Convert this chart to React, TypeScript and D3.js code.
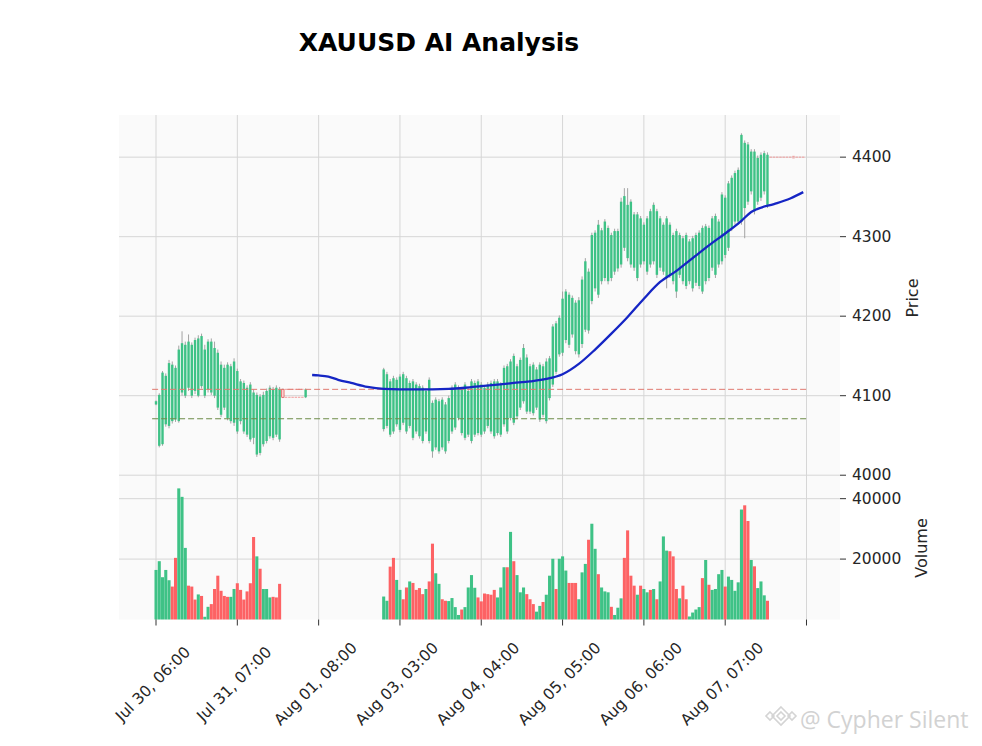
import * as d3 from "d3";

type Candle = [number, number, number, number] | null; // open, high, low, close

const title = "XAUUSD AI Analysis";

const tickPositions = [0, 25, 50, 75, 100, 125, 150, 175, 200];
const tickLabels = [
  "Jul 30, 06:00",
  "Jul 31, 07:00",
  "Aug 01, 08:00",
  "Aug 03, 03:00",
  "Aug 04, 04:00",
  "Aug 05, 05:00",
  "Aug 06, 06:00",
  "Aug 07, 07:00",
  "",
];

const priceTicks = [4000, 4100, 4200, 4300, 4400];
const volumeTicks = [20000, 40000];

// index 0..46
const session1: Candle[] = [
  [4089, 4094, 4088, 4093], [4037, 4103, 4035, 4101], [4039, 4131, 4037, 4129], [4064, 4128, 4061, 4125],
  [4062, 4145, 4059, 4141], [4068, 4143, 4065, 4139], [4070, 4138, 4067, 4135], [4068, 4163, 4066, 4158],
  [4104, 4181, 4100, 4166], [4100, 4168, 4097, 4164], [4110, 4177, 4106, 4168], [4100, 4167, 4097, 4164],
  [4106, 4173, 4102, 4170], [4100, 4176, 4098, 4172], [4112, 4178, 4109, 4175], [4100, 4164, 4097, 4158],
  [4108, 4171, 4104, 4168], [4104, 4172, 4101, 4168], [4100, 4168, 4097, 4160], [4085, 4158, 4082, 4154],
  [4076, 4143, 4073, 4139], [4085, 4139, 4082, 4135], [4072, 4142, 4069, 4139], [4068, 4140, 4065, 4137],
  [4066, 4147, 4062, 4143], [4055, 4134, 4052, 4131], [4068, 4121, 4064, 4118], [4055, 4119, 4052, 4116],
  [4051, 4113, 4048, 4110], [4045, 4117, 4042, 4114], [4047, 4108, 4039, 4104], [4026, 4104, 4023, 4101],
  [4028, 4102, 4025, 4099], [4039, 4105, 4036, 4101], [4043, 4109, 4040, 4106], [4049, 4113, 4046, 4110],
  [4047, 4111, 4044, 4108], [4051, 4113, 4048, 4110], [4045, 4111, 4042, 4108], [4108, 4109, 4097, 4098],
  [4108, 4108, 4098, 4098], [4108, 4108, 4098, 4098], [4108, 4108, 4098, 4098], [4108, 4108, 4098, 4098],
  [4108, 4108, 4098, 4098], [4108, 4108, 4098, 4098], [4098, 4109, 4097, 4108],
];

// index 47..69 : no quotes
const weekendGap: Candle[] = new Array(23).fill(null);

// index 70..188
const session2: Candle[] = [
  [4058, 4135, 4055, 4133], [4062, 4130, 4059, 4127], [4051, 4121, 4048, 4118], [4055, 4125, 4052, 4122],
  [4064, 4123, 4061, 4120], [4057, 4127, 4054, 4124], [4066, 4130, 4063, 4127], [4055, 4125, 4052, 4122],
  [4062, 4119, 4059, 4116], [4047, 4121, 4044, 4118], [4055, 4117, 4052, 4114], [4049, 4115, 4046, 4112],
  [4043, 4113, 4040, 4110], [4055, 4109, 4052, 4106], [4043, 4123, 4040, 4120], [4030, 4094, 4022, 4091],
  [4035, 4098, 4032, 4095], [4030, 4096, 4027, 4093], [4035, 4098, 4032, 4095], [4030, 4092, 4027, 4089],
  [4043, 4100, 4040, 4097], [4055, 4113, 4052, 4110], [4060, 4117, 4057, 4114], [4072, 4113, 4069, 4110],
  [4053, 4111, 4050, 4108], [4047, 4117, 4044, 4114], [4051, 4109, 4048, 4106], [4043, 4121, 4040, 4118],
  [4051, 4119, 4048, 4116], [4053, 4121, 4050, 4118], [4051, 4117, 4048, 4114], [4055, 4113, 4052, 4110],
  [4062, 4117, 4059, 4114], [4055, 4119, 4052, 4116], [4049, 4121, 4046, 4118], [4053, 4121, 4050, 4118],
  [4051, 4117, 4048, 4114], [4064, 4138, 4061, 4135], [4055, 4140, 4052, 4137], [4072, 4146, 4069, 4143],
  [4066, 4153, 4063, 4150], [4074, 4140, 4071, 4137], [4085, 4148, 4082, 4145], [4093, 4165, 4090, 4160],
  [4080, 4152, 4077, 4148], [4080, 4140, 4077, 4137], [4078, 4142, 4075, 4139], [4085, 4136, 4082, 4133],
  [4070, 4142, 4067, 4139], [4076, 4140, 4073, 4137], [4068, 4147, 4065, 4143], [4097, 4150, 4094, 4147],
  [4114, 4190, 4111, 4187], [4130, 4194, 4127, 4191], [4152, 4201, 4149, 4198], [4154, 4231, 4150, 4222],
  [4170, 4234, 4166, 4231], [4164, 4230, 4160, 4227], [4177, 4226, 4173, 4223], [4156, 4220, 4152, 4217],
  [4152, 4224, 4148, 4220], [4165, 4250, 4160, 4246], [4183, 4273, 4180, 4269], [4182, 4260, 4178, 4256],
  [4219, 4305, 4215, 4302], [4235, 4308, 4231, 4305], [4227, 4321, 4223, 4315], [4244, 4311, 4240, 4308],
  [4248, 4322, 4244, 4319], [4244, 4314, 4240, 4311], [4248, 4305, 4244, 4302], [4256, 4310, 4252, 4307],
  [4260, 4310, 4256, 4307], [4265, 4349, 4261, 4344], [4286, 4361, 4282, 4351], [4273, 4361, 4269, 4340],
  [4265, 4347, 4261, 4344], [4261, 4331, 4257, 4328], [4248, 4331, 4244, 4328], [4265, 4326, 4261, 4323],
  [4269, 4318, 4265, 4315], [4256, 4326, 4252, 4323], [4265, 4335, 4261, 4332], [4269, 4343, 4265, 4340],
  [4252, 4335, 4248, 4332], [4261, 4326, 4257, 4323], [4256, 4318, 4252, 4315], [4248, 4326, 4235, 4323],
  [4252, 4318, 4248, 4315], [4244, 4305, 4240, 4302], [4231, 4310, 4223, 4307], [4252, 4305, 4248, 4302],
  [4244, 4301, 4240, 4298], [4238, 4305, 4234, 4302], [4244, 4297, 4240, 4294], [4235, 4301, 4231, 4298],
  [4242, 4305, 4238, 4302], [4238, 4308, 4234, 4305], [4231, 4314, 4228, 4311], [4244, 4316, 4240, 4313],
  [4248, 4314, 4244, 4311], [4261, 4326, 4257, 4323], [4252, 4329, 4248, 4326], [4265, 4322, 4261, 4319],
  [4269, 4356, 4265, 4353], [4277, 4352, 4273, 4349], [4286, 4370, 4282, 4367], [4311, 4377, 4307, 4374],
  [4319, 4383, 4315, 4380], [4319, 4387, 4315, 4384], [4319, 4430, 4315, 4428], [4336, 4421, 4298, 4418],
  [4344, 4419, 4340, 4416], [4357, 4410, 4353, 4407], [4332, 4410, 4328, 4407], [4344, 4402, 4340, 4399],
  [4349, 4406, 4345, 4403], [4357, 4408, 4353, 4405], [4340, 4406, 4336, 4403],
];

// index 189..199 : flat quotes without volume
const flatTail: Candle[] = [
  [4400, 4400, 4400, 4400], [4400, 4400, 4400, 4400], [4400, 4400, 4400, 4400], [4400, 4400, 4400, 4400],
  [4400, 4400, 4400, 4400], [4400, 4400, 4400, 4400], [4400, 4400, 4400, 4400], [4401, 4401, 4399, 4399],
  [4400, 4400, 4400, 4400], [4400, 4400, 4400, 4400], [4400, 4400, 4400, 4400],
];

const candles: Candle[] = [...session1, ...weekendGap, ...session2, ...flatTail];

// volume for index 0..38
const volume1 = [
  16400, 19300, 14000, 16400, 13000, 10900, 20400, 43400, 40600, 23700,
  11200, 10900, 6600, 8300, 7800, 900, 4200, 5100, 10100, 14500,
  9500, 7800, 7500, 7500, 10100, 12000, 9800, 6600, 9300, 12000,
  27300, 20900, 16800, 10100, 10100, 7300, 7500, 7300, 11800,
];
const volumeDir1 = "gggggrrgggrrrgrggrrrrrrggrrrrrrgrgggrrr";

// volume for index 70..188
const volume2 = [
  7600, 6200, 17500, 20400, 13100, 9800, 6700, 10600, 12600, 12100,
  9800, 10400, 8400, 10100, 12600, 25100, 15300, 11800, 6700, 6200,
  6100, 7100, 4100, 1500, 3300, 4100, 10600, 14700, 10500, 7300,
  6000, 8600, 8400, 8200, 9800, 7300, 10600, 17300, 17300, 29000,
  19300, 14700, 9000, 10600, 8400, 6700, 5100, 2600, 4500, 5800,
  8200, 14500, 20100, 10100, 20100, 20900, 16200, 12100, 12100, 12100,
  6700, 15600, 18400, 26400, 31700, 23400, 15000, 10600, 9300, 9000,
  4200, 1500, 3900, 7000, 20400, 29500, 14500, 11200, 8200, 11200,
  10100, 9000, 9800, 10100, 6700, 12600, 27500, 22800, 22600, 20900,
  10100, 7000, 11200, 6700, 1000, 2300, 3300, 4100, 13700, 19700,
  11500, 9800, 10100, 15000, 16400, 10900, 14200, 13100, 9500, 12300,
  36400, 37800, 32600, 19700, 17600, 10400, 12600, 8000, 6200,
];
const volumeDir2 =
  "ggrrggrrgr" + "rrrgrrggrr" + "ggggrggggr" + "rrrrrgggrg" + "rgggrrrggr" +
  "gggrgggrrr" + "gggrggrggg" + "rgggrrrrgr" + "ggrgrgggrr" + "rgrrggggrg" +
  "rggggrgggg" + "grrgrgggr";

const volumeStart1 = 0;
const volumeStart2 = 70;

// AI trend line
const trendIndex = [48, 50, 53, 56, 60, 65, 70, 75, 80, 85, 90, 95, 100, 105, 110, 115, 120, 125, 130, 135, 140, 145, 150, 155, 160, 165, 170, 175, 180, 183, 185, 190, 195, 199];
const trendValue = [4126, 4125.5, 4124, 4120, 4116, 4111, 4108.5, 4108, 4108, 4108, 4108.5, 4110, 4112, 4114, 4116, 4118, 4121, 4127, 4140, 4158, 4178, 4199, 4222, 4243, 4257, 4273, 4289, 4304, 4320, 4331, 4335, 4341, 4348, 4356];

const resistanceLevel = 4108;
const supportLevel = 4071;

const UP = "#3ec286";
const DOWN = "#fd6264";

export default function App() {
  const width = 982;
  const height = 746;
  const plot = { left: 119, right: 840, priceTop: 115, priceBottom: 476, volumeBottom: 619.5 };

  const x = d3.scaleLinear().domain([-11.38, 210.3]).range([plot.left, plot.right]);
  const yPrice = d3.scaleLinear().domain([3999, 4453]).range([plot.priceBottom, plot.priceTop]);
  const yVolume = d3.scaleLinear().domain([0, 47500]).range([plot.volumeBottom, plot.priceBottom]);
  const step = x(1) - x(0);
  const bodyWidth = step * 0.74;

  const volumes: { index: number; value: number; up: boolean }[] = [
    ...volume1.map((value, k) => ({ index: volumeStart1 + k, value, up: volumeDir1[k] === "g" })),
    ...volume2.map((value, k) => ({ index: volumeStart2 + k, value, up: volumeDir2[k] === "g" })),
  ];
  const hasVolume = new Set(volumes.map((v) => v.index));

  const trendLine = d3
    .line<number>()
    .x((_, k) => x(trendIndex[k]))
    .y((v) => yPrice(v))
    .curve(d3.curveMonotoneX);

  const font = "DejaVu Sans, sans-serif";

  return (
    <svg
      width={width}
      height={height}
      viewBox={`0 0 ${width} ${height}`}
      style={{ position: "absolute", left: 0, top: 0, background: "#fff" }}
    >
      <text x={439} y={51} textAnchor="middle" fontFamily={font} fontWeight="bold" fontSize={25} fill="#000">
        {title}
      </text>

      <rect x={plot.left} y={plot.priceTop} width={plot.right - plot.left} height={plot.volumeBottom - plot.priceTop} fill="#fafafa" />

      <g stroke="#d6d6d6" strokeWidth={1}>
        {tickPositions.map((t) => (
          <line key={`vx-${t}`} x1={x(t)} x2={x(t)} y1={plot.priceTop} y2={plot.volumeBottom} />
        ))}
        {priceTicks.map((t) => (
          <line key={`py-${t}`} x1={plot.left} x2={plot.right} y1={yPrice(t)} y2={yPrice(t)} />
        ))}
        {volumeTicks.map((t) => (
          <line key={`vy-${t}`} x1={plot.left} x2={plot.right} y1={yVolume(t)} y2={yVolume(t)} />
        ))}
      </g>

      <g>
        {candles.map((d, i) => {
          if (!d) return null;
          const [o, h, l, c] = d;
          const cx = x(i);
          const ghost = !hasVolume.has(i) && o >= c && h === o && l === c;
          if (ghost) {
            if (o === c) {
              return (
                <line key={`c-${i}`} x1={cx - bodyWidth / 2} x2={cx + bodyWidth / 2} y1={yPrice(o)} y2={yPrice(o)} stroke="#f09090" strokeWidth={0.9} />
              );
            }
            return (
              <g key={`c-${i}`} stroke="#f09090" strokeWidth={0.9}>
                <line x1={cx - bodyWidth / 2} x2={cx + bodyWidth / 2} y1={yPrice(o)} y2={yPrice(o)} />
                <line x1={cx - bodyWidth / 2} x2={cx + bodyWidth / 2} y1={yPrice(c)} y2={yPrice(c)} />
              </g>
            );
          }
          const top = yPrice(Math.max(o, c));
          const bottom = yPrice(Math.min(o, c));
          return (
            <g key={`c-${i}`}>
              <line x1={cx} x2={cx} y1={yPrice(h)} y2={yPrice(l)} stroke="#9a9a9a" strokeWidth={0.9} />
              <rect
                x={cx - bodyWidth / 2}
                y={top}
                width={bodyWidth}
                height={Math.max(0.8, bottom - top)}
                fill={c >= o ? UP : "#fdd0d0"}
                stroke={c >= o ? "none" : "#e05050"}
                strokeWidth={0.7}
              />
            </g>
          );
        })}
      </g>

      <line x1={x(-1.2)} x2={x(200.4)} y1={yPrice(resistanceLevel)} y2={yPrice(resistanceLevel)} stroke="#e07a70" strokeWidth={1} strokeDasharray="6 3" />
      <line x1={x(-1.2)} x2={x(200.4)} y1={yPrice(supportLevel)} y2={yPrice(supportLevel)} stroke="#6e8c48" strokeWidth={1.1} strokeDasharray="6 3" />

      <path d={trendLine(trendValue) ?? ""} fill="none" stroke="#1525c4" strokeWidth={2.3} />

      <g>
        {volumes.map((v) => (
          <rect
            key={`v-${v.index}`}
            x={x(v.index) - step * 0.47}
            y={yVolume(v.value)}
            width={step * 0.94}
            height={yVolume(0) - yVolume(v.value)}
            fill={v.up ? UP : DOWN}
          />
        ))}
      </g>

      <g fontFamily={font} fontSize={15.5} fill="#262626">
        {priceTicks.map((t) => (
          <g key={`pt-${t}`}>
            <line x1={plot.right} x2={plot.right + 6} y1={yPrice(t)} y2={yPrice(t)} stroke="#333" strokeWidth={1} />
            <text x={plot.right + 12} y={yPrice(t)} dominantBaseline="central">
              {t}
            </text>
          </g>
        ))}
        {volumeTicks.map((t) => (
          <g key={`vt-${t}`}>
            <line x1={plot.right} x2={plot.right + 6} y1={yVolume(t)} y2={yVolume(t)} stroke="#333" strokeWidth={1} />
            <text x={plot.right + 12} y={yVolume(t)} dominantBaseline="central">
              {t}
            </text>
          </g>
        ))}
        {tickPositions.map((t, k) => (
          <g key={`xt-${t}`}>
            <line x1={x(t)} x2={x(t)} y1={plot.volumeBottom} y2={plot.volumeBottom + 6} stroke="#333" strokeWidth={1} />
            {tickLabels[k] && (
              <text
                transform={`translate(${x(t) - 3},${684}) rotate(-45)`}
                textAnchor="middle"
                dominantBaseline="central"
              >
                {tickLabels[k]}
              </text>
            )}
          </g>
        ))}
        <text transform="translate(912,298) rotate(-90)" textAnchor="middle" dominantBaseline="central" fontSize={16}>
          Price
        </text>
        <text transform="translate(921,548) rotate(-90)" textAnchor="middle" dominantBaseline="central" fontSize={16}>
          Volume
        </text>
      </g>

      <g fill="none" stroke="#d4d4d4" strokeWidth={1.6}>
        <path d="M781 707 L790 716 L781 725 L772 716 Z" />
        <path d="M781 712 L785 716 L781 720 L777 716 Z" />
        <path d="M770 712 L774 716 L770 720 L766 716 Z" />
        <path d="M792 712 L796 716 L792 720 L788 716 Z" />
      </g>
      <text x={800} y={728} fontFamily="Open Sans, sans-serif" fontSize={23} fill="#d2d2d2">
        @ Cypher Silent
      </text>
    </svg>
  );
}
